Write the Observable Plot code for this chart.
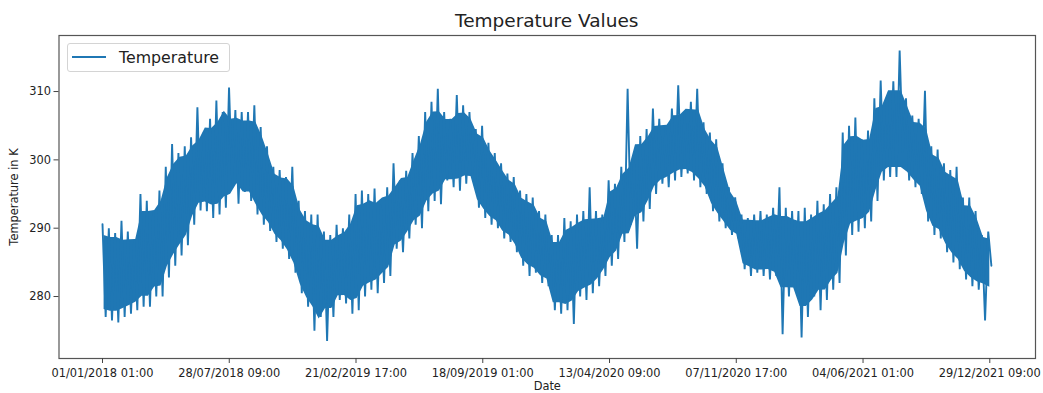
<!DOCTYPE html>
<html>
<head>
<meta charset="utf-8">
<script src="https://cdn.jsdelivr.net/npm/d3@7"></script>
<script src="https://cdn.jsdelivr.net/npm/@observablehq/plot@0.6"></script>
<style>
  body { margin: 0; background: #fff; font-family: "DejaVu Sans", sans-serif; }
  #wrap { position: relative; width: 1043px; height: 393px; overflow: hidden; background: #fff; }
  #title { height: 30px; box-sizing: border-box; padding-top: 12px; margin-left: 58.5px; width: 976.5px;
           text-align: center; font-size: 18.5px; line-height: 18.5px; color: #222; white-space: nowrap; }
  #legend { position: absolute; left: 66.5px; top: 42.5px; width: 163px; height: 29.5px; box-sizing: border-box;
            border: 1px solid #d4d4d4; border-radius: 3px; background: rgba(255,255,255,0.85); }
  #legend .swatch { position: absolute; left: 4.5px; top: 12px; width: 34px; height: 0; border-top: 2px solid #1f77b4; }
  #legend .name { position: absolute; left: 51.5px; top: 6.4px; font-size: 15.8px; line-height: 15.8px; color: #222; white-space: nowrap; }
</style>
</head>
<body>
<div id="wrap">
  <div id="title">Temperature Values</div>
  <div id="chart"></div>
  <div id="legend"><div class="swatch"></div><div class="name">Temperature</div></div>
</div>
<script>
// Hourly record: 01/01/2018 01:00 (hour 0) to the last reading (hour 35063).
const firstHour = 0;
const lastHour = 35063;

// Upper and lower swing of the hourly readings (K), one pair per block of ~250 hours.
const blockHigh = [
  290.6, 290, 289.3, 291.1, 289.5, 288.3, 295, 294, 292.5, 295.5,
  299, 302.3, 301, 302, 303.3, 307.7, 304, 306, 308.7, 307,
  310.6, 307.3, 307, 307, 308, 304.8, 302, 299, 298.5, 297.5,
  299, 294, 292.5, 292, 292, 289.5, 289, 290.5, 290, 292,
  295, 295.5, 295, 295.8, 293.5, 296, 299.5, 297, 298.4, 301,
  303.5, 307, 308.5, 310.4, 307, 306, 309.5, 308, 307, 304.5,
  305, 302.5, 301, 299.5, 298, 297.5, 295.5, 295, 294.5, 292.5,
  292, 289, 289, 291.5, 291, 292, 292.5, 296, 292.5, 292,
  297, 296.5, 299, 310.4, 300, 303.5, 304.5, 307.5, 306, 305,
  307.5, 310.9, 307, 308.5, 310.4, 305.5, 304, 303, 299.5, 296,
  294.5, 292, 291.5, 292, 292.5, 292, 293, 296, 293, 292.5,
  292.5, 293, 292, 294, 293.5, 295, 296, 304, 305, 306.2,
  303, 304.3, 309, 311.6, 309, 311.5, 316, 309, 306.5, 306,
  310.1, 302, 301.5, 299.5, 298.5, 299, 294.5, 294.5, 292.5, 289,
  289.5
];
const blockLow = [
  277, 276.5, 276.2, 277, 277.5, 278, 278.5, 278.5, 280, 280,
  282.8, 284.5, 286, 287.5, 290.5, 292.6, 292.5, 291.5, 292, 293,
  296.5, 293.6, 295.3, 294, 292, 290.5, 289.6, 288, 287, 285.5,
  283.5, 280.5, 278.5, 275, 277, 273.5, 277, 279.5, 279, 277.5,
  278, 280, 281, 280.5, 282, 283, 287, 286.5, 288.5, 290.5,
  290, 292.5, 294, 293.5, 297, 296, 295.5, 296.5, 298, 293,
  291.5, 290.5, 290, 288.5, 288, 286.5, 284.5, 283, 283.5, 282,
  281.5, 278, 277.5, 278, 276, 280, 279.5, 280.5, 281.5, 283,
  284.5, 285.5, 288, 290.5, 287, 291, 292.8, 295, 296.5, 296,
  297, 297.5, 298, 297, 296, 295, 292.5, 291, 290, 289,
  288.5, 284, 283, 283.5, 283, 282.5, 283, 274.5, 280, 281,
  274, 277, 280, 278, 279.5, 281, 282, 286, 289, 289.5,
  290, 291, 294, 297, 297.5, 297.5, 301, 297, 296, 295,
  291, 289, 288.5, 286.5, 285, 284, 282.5, 281.5, 281, 276.5,
  284.5
];

// Axis ticks: every 5000 hours, labelled with the timestamp of that row.
const xTickHours = [0, 5000, 10000, 15000, 20000, 25000, 30000, 35000];
const xTickLabels = [
  "01/01/2018 01:00", "28/07/2018 09:00", "21/02/2019 17:00", "18/09/2019 01:00",
  "13/04/2020 09:00", "07/11/2020 17:00", "04/06/2021 01:00", "29/12/2021 09:00"
];
const yTicks = [280, 290, 300, 310];

// Each block is drawn as a peak followed by a trough.
const step = (lastHour - firstHour) / (blockHigh.length - 0.5);
const series = [];
blockHigh.forEach((h, i) => {
  series.push({hour: firstHour + i * step, temp: h});
  series.push({hour: firstHour + (i + 0.5) * step, temp: blockLow[i]});
});

// Solid core of the band: the running median of the swings, pulled in a little
// so the individual peaks and troughs stay visible along both edges.
const inset = 0.1;
const near = (arr, i) => arr.slice(Math.max(0, i - 1), i + 2);
const core = blockHigh.map((h, i) => {
  const top = d3.median(near(blockHigh, i));
  const bottom = d3.median(near(blockLow, i));
  const span = Math.max(0, top - bottom);
  return {hour: firstHour + (i + 0.25) * step, top: top - inset * span, bottom: bottom + inset * span};
});

const blue = "#1f77b4";

const chart = Plot.plot({
  width: 1043,
  height: 363,
  marginLeft: 58.5,
  marginRight: 8,
  marginTop: 5,
  marginBottom: 35,
  x: {domain: [-1716, 36803]},
  y: {domain: [270.93, 318.2]},
  style: {fontFamily: "DejaVu Sans, sans-serif", fontSize: "11.4px", color: "#222", background: "white", overflow: "visible"},
  marks: [
    Plot.areaY(core, {x: "hour", y1: "bottom", y2: "top", fill: blue, curve: "linear"}),
    Plot.lineY(series, {x: "hour", y: "temp", stroke: blue, strokeWidth: 1.9, strokeLinejoin: "miter"}),
    Plot.frame({stroke: "#555", strokeWidth: 1.2}),
    Plot.axisY({
      ticks: yTicks, tickSize: 5, tickPadding: 3, stroke: "#444",
      label: "Temperature in K", labelAnchor: "center", labelArrow: "none", labelOffset: 49
    }),
    Plot.axisX({
      ticks: xTickHours, tickSize: 5, tickPadding: 5, stroke: "#444",
      tickFormat: d => xTickLabels[xTickHours.indexOf(d)],
      label: "Date", labelAnchor: "center", labelArrow: "none", labelOffset: 31
    })
  ]
});

document.getElementById("chart").appendChild(chart);
</script>
</body>
</html>
